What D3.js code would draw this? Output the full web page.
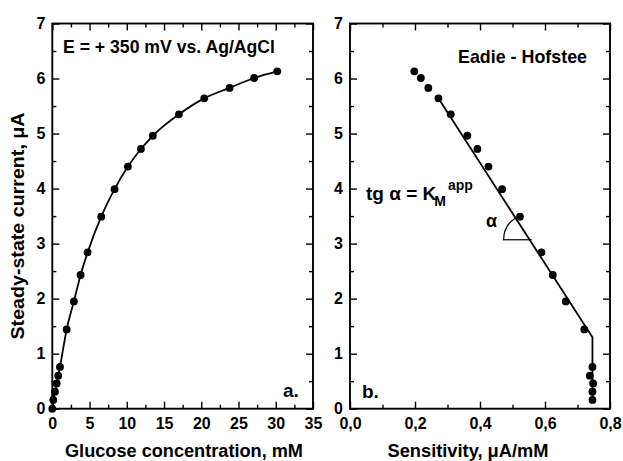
<!DOCTYPE html>
<html>
<head>
<meta charset="utf-8">
<script src="https://cdn.jsdelivr.net/npm/d3@7"></script>
<style>
  body { margin: 0; background: #fff; }
  text { font-family: "Liberation Sans", Arial, sans-serif; font-weight: bold; fill: #000; }
</style>
</head>
<body>
<svg id="chart" width="623" height="461"></svg>
<script>
// Data
var glucose = [0, 0.13, 0.36, 0.59, 0.8, 1.03, 1.93, 2.9, 3.8, 4.74, 6.57, 8.36, 10.15, 11.9, 13.5, 17.0, 20.4, 23.8, 27.1, 30.2];
var current = [0, 0.16, 0.31, 0.46, 0.60, 0.76, 1.44, 1.95, 2.43, 2.84, 3.49, 3.99, 4.40, 4.72, 4.96, 5.35, 5.64, 5.83, 6.01, 6.13];
// Eadie-Hofstee points (sensitivity, current)
var ehSens = [0.746, 0.746, 0.748, 0.738, 0.746, 0.721, 0.664, 0.624, 0.589, 0.523, 0.468, 0.426, 0.392, 0.361, 0.310, 0.272, 0.241, 0.218, 0.198];
var ehCurrent = [0.16, 0.31, 0.46, 0.60, 0.76, 1.44, 1.95, 2.43, 2.84, 3.49, 3.99, 4.40, 4.72, 4.96, 5.35, 5.64, 5.83, 6.01, 6.13];
// fitted straight line + vertical segment
var fitSens = [0.272, 0.746, 0.746];
var fitCurrent = [5.64, 1.30, 0.15];

var yTicks = [0, 1, 2, 3, 4, 5, 6, 7];
var xTicksA = [0, 5, 10, 15, 20, 25, 30, 35];
var xTicksB = [0, 0.2, 0.4, 0.6, 0.8];

var svg = d3.select("#chart");
var plotTop = 23.5, plotBottom = 408.7;

var y = d3.scaleLinear().domain([0, 7]).range([plotBottom, plotTop]);
var xa = d3.scaleLinear().domain([0, 35]).range([52.3, 313]);
var xb = d3.scaleLinear().domain([0, 0.8]).range([350, 610]);

function frame(x, xTicks, xMinor, fmt) {
    var g = svg.append("g");
    // bottom axis, inward ticks
    g.append("g").attr("transform", "translate(0," + plotBottom + ")")
        .call(d3.axisBottom(x).tickValues(xMinor).tickSize(-4).tickFormat(""));
    g.append("g").attr("transform", "translate(0," + plotBottom + ")")
        .call(d3.axisBottom(x).tickValues(xTicks).tickSize(-7).tickPadding(9).tickFormat(fmt));
    // top axis
    g.append("g").attr("transform", "translate(0," + plotTop + ")")
        .call(d3.axisTop(x).tickValues(xMinor).tickSize(-4).tickFormat(""));
    g.append("g").attr("transform", "translate(0," + plotTop + ")")
        .call(d3.axisTop(x).tickValues(xTicks).tickSize(-7).tickFormat(""));
    // left and right
    var yMinor = d3.range(0.5, 7, 1);
    g.append("g").attr("transform", "translate(" + x.range()[0] + ",0)")
        .call(d3.axisLeft(y).tickValues(yMinor).tickSize(-4).tickFormat(""));
    g.append("g").attr("transform", "translate(" + x.range()[0] + ",0)")
        .call(d3.axisLeft(y).tickValues(yTicks).tickSize(-7).tickPadding(7).tickFormat(d3.format("d")));
    g.append("g").attr("transform", "translate(" + x.range()[1] + ",0)")
        .call(d3.axisRight(y).tickValues(yMinor).tickSize(-4).tickFormat(""));
    g.append("g").attr("transform", "translate(" + x.range()[1] + ",0)")
        .call(d3.axisRight(y).tickValues(yTicks).tickSize(-7).tickFormat(""));

    g.selectAll(".domain").remove();
    g.selectAll(".tick line").attr("stroke", "#000").attr("stroke-width", 1.4);
    g.selectAll(".tick text").attr("font-size", 16).attr("font-family", "Liberation Sans, Arial, sans-serif")
        .attr("font-weight", "bold").attr("fill", "#000");

    g.append("rect")
        .attr("x", x.range()[0]).attr("y", plotTop)
        .attr("width", x.range()[1] - x.range()[0]).attr("height", plotBottom - plotTop)
        .attr("fill", "none").attr("stroke", "#000").attr("stroke-width", 1.9);
    return g;
}

frame(xa, xTicksA, d3.range(2.5, 35, 5), d3.format("d"));
frame(xb, xTicksB, d3.range(0.1, 0.8, 0.2), function(d) { return d3.format(".1f")(d).replace(".", ","); });

// panel a: curve and points
var ptsA = glucose.map(function(c, i) { return [c, current[i]]; });
var lineA = d3.line().x(function(d) { return xa(d[0]); }).y(function(d) { return y(d[1]); })
    .curve(d3.curveMonotoneX);
svg.append("path").datum(ptsA).attr("d", lineA)
    .attr("fill", "none").attr("stroke", "#000").attr("stroke-width", 1.8);
svg.append("g").selectAll("circle").data(ptsA).enter().append("circle")
    .attr("cx", function(d) { return xa(d[0]); })
    .attr("cy", function(d) { return y(d[1]); })
    .attr("r", 3.9).attr("fill", "#000");

// panel b: fit line and points
var fitPts = fitSens.map(function(s, i) { return [s, fitCurrent[i]]; });
var lineB = d3.line().x(function(d) { return xb(d[0]); }).y(function(d) { return y(d[1]); });
svg.append("path").datum(fitPts).attr("d", lineB)
    .attr("fill", "none").attr("stroke", "#000").attr("stroke-width", 1.8);
var ptsB = ehSens.map(function(s, i) { return [s, ehCurrent[i]]; });
svg.append("g").selectAll("circle").data(ptsB).enter().append("circle")
    .attr("cx", function(d) { return xb(d[0]); })
    .attr("cy", function(d) { return y(d[1]); })
    .attr("r", 3.9).attr("fill", "#000");

// alpha angle marker
var yAlpha = 3.07;
var slope = (fitCurrent[1] - fitCurrent[0]) / (fitSens[1] - fitSens[0]);
var sCross = fitSens[0] + (yAlpha - fitCurrent[0]) / slope;
var cx = xb(sCross), cy = y(yAlpha);
svg.append("line")
    .attr("x1", xb(0.47)).attr("x2", cx + 2).attr("y1", cy).attr("y2", cy)
    .attr("stroke", "#000").attr("stroke-width", 1.2);
var dx = xb(fitSens[1]) - xb(fitSens[0]), dy = y(fitCurrent[1]) - y(fitCurrent[0]);
var ang = Math.atan2(-dy, -dx); // direction up-left along the line
var r = 26;
svg.append("path")
    .attr("d", "M" + (cx - r) + "," + cy + " A" + r + "," + r + " 0 0,1 " +
        (cx + r * Math.cos(ang)) + "," + (cy + r * Math.sin(ang)))
    .attr("fill", "none").attr("stroke", "#000").attr("stroke-width", 1.2);
svg.append("text").attr("x", 486).attr("y", 227).attr("font-size", 18).text("α");

// texts
svg.append("text").attr("x", 63).attr("y", 53).attr("font-size", 19)
    .attr("textLength", 212).attr("lengthAdjust", "spacingAndGlyphs")
    .text("E = + 350 mV vs. Ag/AgCl");
svg.append("text").attr("x", 458).attr("y", 63).attr("font-size", 19)
    .attr("textLength", 129).attr("lengthAdjust", "spacingAndGlyphs")
    .text("Eadie - Hofstee");
var tg = svg.append("text").attr("x", 366).attr("y", 200).attr("font-size", 19);
tg.append("tspan").text("tg ");
tg.append("tspan").text("α = K");
tg.append("tspan").attr("font-size", 14).attr("dy", 6).attr("dx", -2).text("M");
tg.append("tspan").attr("font-size", 14).attr("dy", -16).attr("dx", 2).text("app");

svg.append("text").attr("x", 283).attr("y", 397).attr("font-size", 19).text("a.");
svg.append("text").attr("x", 362).attr("y", 398).attr("font-size", 19).text("b.");

svg.append("text").attr("x", 184).attr("y", 457).attr("font-size", 18)
    .attr("text-anchor", "middle").attr("textLength", 238).attr("lengthAdjust", "spacingAndGlyphs")
    .text("Glucose concentration, mM");
svg.append("text").attr("x", 468).attr("y", 457).attr("font-size", 18)
    .attr("text-anchor", "middle").attr("textLength", 161).attr("lengthAdjust", "spacingAndGlyphs")
    .text("Sensitivity, μA/mM");
svg.append("text").attr("transform", "translate(24,226) rotate(-90)").attr("font-size", 18)
    .attr("text-anchor", "middle").attr("textLength", 227).attr("lengthAdjust", "spacingAndGlyphs")
    .text("Steady-state current,  μA");
</script>
</body>
</html>
